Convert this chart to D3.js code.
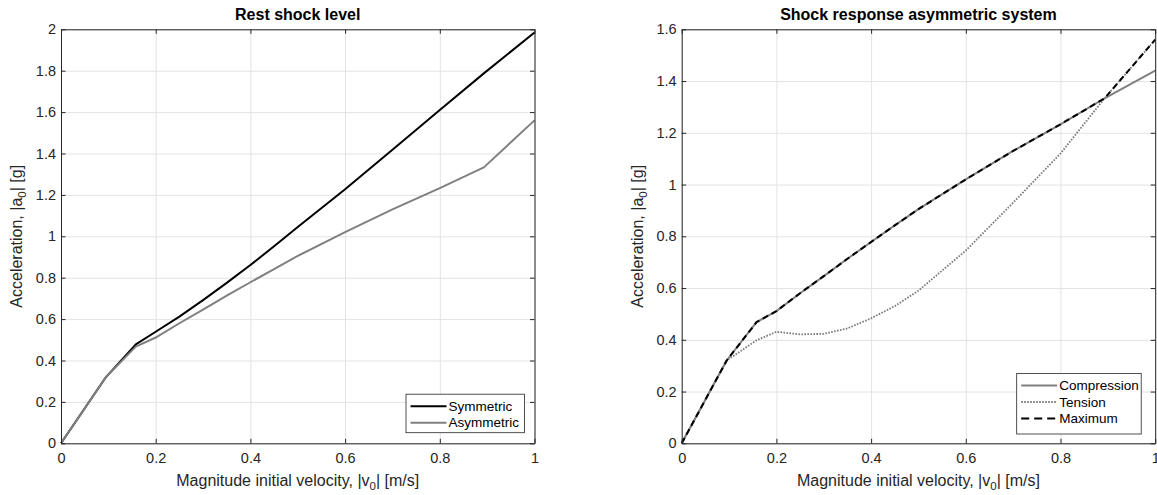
<!DOCTYPE html>
<html>
<head>
<meta charset="utf-8">
<script src="https://cdn.jsdelivr.net/npm/d3@7"></script>
<style>
  body { margin: 0; background: #fff; }
  svg { display: block; font-family: "Liberation Sans", Arial, sans-serif; }
  .axis path, .axis line { stroke: #262626; }
  .axis text { fill: #262626; }
  .grid line { stroke: #e3e3e3; }
  .grid path { display: none; }
</style>
</head>
<body>
<script>
// magnitude initial velocity [m/s]
const velocity = [0, 0.095, 0.158, 0.2, 0.25, 0.3, 0.35, 0.4, 0.45, 0.5, 0.6, 0.7, 0.8, 0.893, 1.0];

// left panel: rest shock level [g]
const symmetric  = [0, 0.32, 0.478, 0.539, 0.612, 0.692, 0.775, 0.861, 0.952, 1.045, 1.227, 1.418, 1.61, 1.787, 1.985];
const asymmetric = [0, 0.32, 0.467, 0.511, 0.58, 0.646, 0.713, 0.778, 0.842, 0.905, 1.02, 1.13, 1.233, 1.333, 1.56];

// right panel: shock response asymmetric system [g]
const compression = [0, 0.32, 0.468, 0.511, 0.58, 0.646, 0.713, 0.778, 0.842, 0.905, 1.02, 1.13, 1.233, 1.333, 1.44];
const tension     = [0, 0.32, 0.398, 0.431, 0.421, 0.423, 0.444, 0.483, 0.53, 0.59, 0.745, 0.93, 1.12, 1.333, 1.56];
const maximum     = [0, 0.32, 0.468, 0.511, 0.58, 0.646, 0.713, 0.778, 0.842, 0.905, 1.02, 1.13, 1.233, 1.333, 1.56];

const xTicks = [0, 0.2, 0.4, 0.6, 0.8, 1];
const yTicksLeft = [0, 0.2, 0.4, 0.6, 0.8, 1, 1.2, 1.4, 1.6, 1.8, 2];
const yTicksRight = [0, 0.2, 0.4, 0.6, 0.8, 1, 1.2, 1.4, 1.6];

const W = 1157, H = 495;
const svg = d3.select('body').append('svg')
    .attr('width', W)
    .attr('height', H);

const axW = 473.5, axH = 414, axTop = 29.3;

function panel(opts) {
    const g = svg.append('g')
        .attr('transform', `translate(${opts.left}, ${axTop})`);

    const x = d3.scaleLinear().domain([0, 1]).range([0, axW]);
    const y = d3.scaleLinear().domain([0, opts.ymax]).range([axH, 0]);

    const fmt = d => d3.format('~g')(d);

    // grid
    g.append('g').attr('class', 'grid')
        .attr('transform', `translate(0, ${axH})`)
        .call(d3.axisBottom(x).tickValues(xTicks).tickSize(-axH).tickFormat(''));
    g.append('g').attr('class', 'grid')
        .call(d3.axisLeft(y).tickValues(opts.yTicks).tickSize(-axW).tickFormat(''));

    // lines
    const line = d3.line()
        .x((d, i) => x(velocity[i]))
        .y(d => y(d));

    opts.series.forEach(s => {
        g.append('path')
            .datum(s.values)
            .attr('fill', 'none')
            .attr('stroke', s.color)
            .attr('stroke-width', s.width)
            .attr('stroke-dasharray', s.dash)
            .attr('stroke-linejoin', 'round')
            .attr('d', line);
    });

    // axes box, ticks pointing inward
    const tickLen = 4.5;
    const xb = g.append('g').attr('class', 'axis')
        .attr('transform', `translate(0, ${axH})`)
        .call(d3.axisBottom(x).tickValues(xTicks).tickSize(-tickLen).tickSizeOuter(0).tickPadding(9).tickFormat(fmt));
    xb.selectAll('text').style('font-size', '14.5px');
    g.append('g').attr('class', 'axis')
        .call(d3.axisTop(x).tickValues(xTicks).tickSize(-tickLen).tickSizeOuter(0).tickFormat(''));
    const yl = g.append('g').attr('class', 'axis')
        .call(d3.axisLeft(y).tickValues(opts.yTicks).tickSize(-tickLen).tickSizeOuter(0).tickPadding(5).tickFormat(fmt));
    yl.selectAll('text').style('font-size', '14.5px');
    g.append('g').attr('class', 'axis')
        .attr('transform', `translate(${axW}, 0)`)
        .call(d3.axisRight(y).tickValues(opts.yTicks).tickSize(-tickLen).tickSizeOuter(0).tickFormat(''));

    // title
    g.append('text')
        .attr('x', axW / 2)
        .attr('y', -9)
        .attr('text-anchor', 'middle')
        .style('font-size', '16px')
        .style('font-weight', 'bold')
        .attr('fill', '#000')
        .text(opts.title);

    // x label
    const xl = g.append('text')
        .attr('x', axW / 2)
        .attr('y', axH + 43)
        .attr('text-anchor', 'middle')
        .style('font-size', '16px')
        .attr('fill', '#262626');
    xl.append('tspan').text('Magnitude initial velocity, |v');
    xl.append('tspan').attr('dy', 4).style('font-size', '11.5px').text('0');
    xl.append('tspan').attr('dy', -4).text('| [m/s]');

    // y label
    const ylab = g.append('text')
        .attr('transform', `translate(${opts.ylabelX}, ${axH / 2}) rotate(-90)`)
        .attr('text-anchor', 'middle')
        .style('font-size', '16px')
        .attr('fill', '#262626');
    ylab.append('tspan').text('Acceleration, |a');
    ylab.append('tspan').attr('dy', 4).style('font-size', '11.5px').text('0');
    ylab.append('tspan').attr('dy', -4).text('| [g]');

    // legend
    const rowH = 16.5;
    const lg = g.append('g')
        .attr('transform', `translate(${axW - opts.legend.right - opts.legend.width}, ${axH - opts.legend.bottom - opts.legend.height})`);
    lg.append('rect')
        .attr('width', opts.legend.width)
        .attr('height', opts.legend.height)
        .attr('fill', '#fff')
        .attr('stroke', '#262626')
        .attr('stroke-width', 0.8);
    opts.series.forEach((s, i) => {
        const yy = 12 + i * rowH;
        lg.append('line')
            .attr('x1', 4.5).attr('x2', 40.5)
            .attr('y1', yy).attr('y2', yy)
            .attr('stroke', s.color)
            .attr('stroke-width', s.width)
            .attr('stroke-dasharray', s.legendDash || s.dash);
        lg.append('text')
            .attr('x', 42.5)
            .attr('y', yy)
            .attr('dy', '0.35em')
            .style('font-size', '13.5px')
            .attr('fill', '#000')
            .text(s.name);
    });
}

panel({
    left: 61,
    ymax: 2,
    yTicks: yTicksLeft,
    title: 'Rest shock level',
    ylabelX: -39,
    legend: { right: 10, bottom: 10.6, width: 118.5, height: 38.5 },
    series: [
        { name: 'Symmetric', values: symmetric, color: '#000', width: 2, dash: null },
        { name: 'Asymmetric', values: asymmetric, color: '#808080', width: 2, dash: null }
    ]
});

panel({
    left: 681.7,
    ymax: 1.6,
    yTicks: yTicksRight,
    title: 'Shock response asymmetric system',
    ylabelX: -39,
    legend: { right: 14, bottom: 9.3, width: 124.5, height: 60.5 },
    series: [
        { name: 'Compression', values: compression, color: '#808080', width: 2, dash: null },
        { name: 'Tension', values: tension, color: '#7a7a7a', width: 1.8, dash: '1.6,1.4' },
        { name: 'Maximum', values: maximum, color: '#000', width: 2, dash: '6,4', legendDash: '8,5' }
    ]
});
</script>
</body>
</html>
